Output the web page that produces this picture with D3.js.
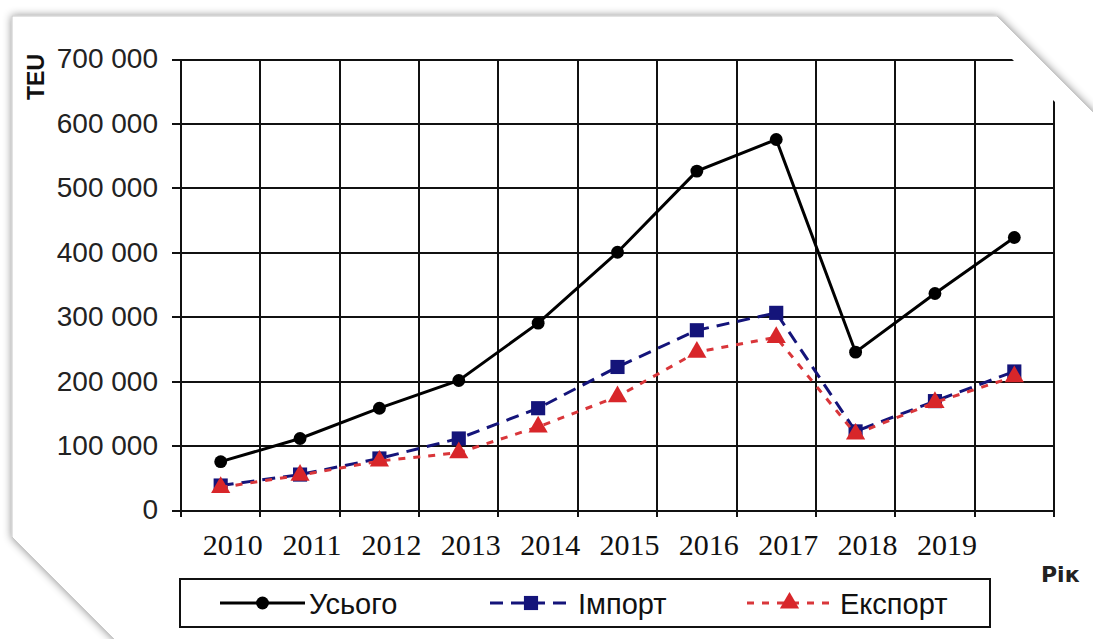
<!DOCTYPE html>
<html>
<head>
<meta charset="utf-8">
<title>TEU - Усього / Імпорт / Експорт</title>
<style>
    body { margin: 0; background: #fff; }
    svg { display: block; }
    .axis text { font: 28px "Liberation Sans", Arial, sans-serif; fill: #222; }
    .axis path { display: none; }
    .axis line, .grid line { stroke: #111; stroke-width: 2px; shape-rendering: crispEdges; }
    .grid path { display: none; }
    .xlabel { font: 30px "Liberation Serif", "Times New Roman", serif; fill: #111; text-anchor: middle; }
    .legend text { font: 29px "Liberation Sans", Arial, sans-serif; fill: #111; }
</style>
</head>
<body>
<svg width="1093" height="639"></svg>
<script src="https://cdn.jsdelivr.net/npm/d3@7"></script>
<script>

    // data
    var categories = ["2010", "2011", "2012", "2013", "2014", "2015", "2016", "2017", "2018", "2019", "2020"];
    var tickLabels = ["2010", "2011", "2012", "2013", "2014", "2015", "2016", "2017", "2018", "2019", ""];
    var total   = [75000, 111000, 158000, 201000, 290000, 400000, 526000, 575000, 245000, 336000, 423000];
    var imports = [38000, 55000, 80000, 111000, 158000, 222000, 279000, 306000, 122000, 169000, 215000];
    var exports = [35000, 54000, 76000, 89000, 129000, 176000, 245000, 268000, 118000, 167000, 207000];
    var yTicks = [0, 100000, 200000, 300000, 400000, 500000, 600000, 700000];
    var seriesNames = ["Усього", "Імпорт", "Експорт"];

    var svg = d3.select("svg");

    var margin = {top: 59, right: 39, bottom: 129, left: 181},
        width = 1093 - margin.left - margin.right,
        height = 639 - margin.top - margin.bottom;

    var defs = svg.append("defs");
    var shadow = defs.append("filter").attr("id", "shadow")
        .attr("x", "-10%").attr("y", "-10%").attr("width", "120%").attr("height", "120%");
    shadow.append("feDropShadow")
        .attr("dx", 0).attr("dy", 0)
        .attr("stdDeviation", 4)
        .attr("flood-color", "#000")
        .attr("flood-opacity", 0.45);

    // page with cut corners
    svg.append("polygon")
        .attr("points", "12,16 997,16 1160,179 1160,720 195,720 12,537")
        .attr("fill", "#fff")
        .attr("stroke", "#c8c8c8")
        .attr("filter", "url(#shadow)");

    // grid is cut at the top right corner
    defs.append("clipPath").attr("id", "corner")
        .append("polygon")
        .attr("points", "-181,-59 772,-59 912,81 912,600 -181,600");

    var g = svg.append("g")
        .attr("transform", "translate(" + margin.left + "," + margin.top + ")");

    var x = d3.scaleBand()
        .domain(categories)
        .range([0, width]);

    var y = d3.scaleLinear()
        .domain([0, 700000])
        .range([height, 0]);

    var locale = d3.formatLocale({decimal: ",", thousands: " ", grouping: [3], currency: ["", ""]});
    var fmt = locale.format(",d");

    var bounds = categories.map(function (c) { return x(c); }).concat([width]);

    var grid = g.append("g").attr("clip-path", "url(#corner)");

    grid.append("g")
        .attr("class", "grid")
        .call(d3.axisLeft(y).tickValues(yTicks).tickSize(-width).tickFormat(""));

    grid.selectAll(".vgrid")
        .data(bounds)
        .enter().append("line")
        .attr("class", "vgrid")
        .attr("x1", function (d) { return d; })
        .attr("x2", function (d) { return d; })
        .attr("y1", 0)
        .attr("y2", height + 7)
        .attr("stroke", "#111")
        .attr("stroke-width", 2)
        .attr("shape-rendering", "crispEdges");

    g.append("g")
        .attr("class", "axis axis--y")
        .call(d3.axisLeft(y).tickValues(yTicks).tickSize(9).tickPadding(14).tickFormat(fmt));

    g.selectAll(".xlabel")
        .data(categories)
        .enter().append("text")
        .attr("class", "xlabel")
        .attr("x", function (d) { return x(d) + x.bandwidth() / 2 + 12; })
        .attr("y", height + 45)
        .text(function (d, i) { return tickLabels[i]; });

    // axis titles
    svg.append("text")
        .attr("transform", "translate(44,77) rotate(-90)")
        .attr("text-anchor", "middle")
        .style("font", "bold 23px 'Liberation Sans', Arial, sans-serif")
        .attr("fill", "#111")
        .text("TEU");

    svg.append("text")
        .attr("x", 1041)
        .attr("y", 582)
        .style("font", "bold 22px 'DejaVu Sans', sans-serif")
        .attr("fill", "#222")
        .text("Рік");

    // series
    var series = [
        {name: seriesNames[0], values: total, color: "#000", dash: null, marker: d3.symbolCircle, size: 130, fill: "#000"},
        {name: seriesNames[1], values: imports, color: "#14147a", dash: "13,8", marker: d3.symbolSquare, size: 200, fill: "#14147a"},
        {name: seriesNames[2], values: exports, color: "#d9363a", dash: "7,8", marker: d3.symbolTriangle, size: 160, fill: "#d8262a"}
    ];

    var line = d3.line()
        .x(function (d, i) { return x(categories[i]) + x.bandwidth() / 2; })
        .y(function (d) { return y(d); });

    var serie = g.selectAll(".serie")
        .data(series)
        .enter().append("g")
        .attr("class", "serie");

    serie.append("path")
        .attr("fill", "none")
        .attr("stroke", function (d) { return d.color; })
        .attr("stroke-width", 3)
        .attr("stroke-dasharray", function (d) { return d.dash; })
        .attr("d", function (d) { return line(d.values); });

    serie.each(function (s) {
        d3.select(this).selectAll(".pt")
            .data(s.values)
            .enter().append("path")
            .attr("class", "pt")
            .attr("transform", function (d, i) {
                return "translate(" + (x(categories[i]) + x.bandwidth() / 2) + "," + y(d) + ")";
            })
            .attr("d", d3.symbol().type(s.marker).size(s.size))
            .attr("fill", s.fill);
    });

    // legend
    var legend = svg.append("g").attr("class", "legend");
    legend.append("rect")
        .attr("x", 180).attr("y", 579)
        .attr("width", 810).attr("height", 48)
        .attr("fill", "#fff")
        .attr("stroke", "#111")
        .attr("stroke-width", 2);

    var legendPos = [
        {x1: 220, x2: 305, text: 309},
        {x1: 490, x2: 572, text: 578},
        {x1: 747, x2: 832, text: 840}
    ];

    var item = legend.selectAll(".item")
        .data(series)
        .enter().append("g")
        .attr("class", "item");

    item.append("line")
        .attr("x1", function (d, i) { return legendPos[i].x1; })
        .attr("x2", function (d, i) { return legendPos[i].x2; })
        .attr("y1", 603).attr("y2", 603)
        .attr("stroke", function (d) { return d.color; })
        .attr("stroke-width", 3)
        .attr("stroke-dasharray", function (d) { return d.dash; });

    item.append("path")
        .attr("transform", function (d, i) {
            return "translate(" + (legendPos[i].x1 + legendPos[i].x2) / 2 + ",603)";
        })
        .attr("d", function (d) { return d3.symbol().type(d.marker).size(d.size)(); })
        .attr("fill", function (d) { return d.fill; });

    item.append("text")
        .attr("x", function (d, i) { return legendPos[i].text; })
        .attr("y", 614)
        .text(function (d) { return d.name; });

</script>
</body>
</html>
